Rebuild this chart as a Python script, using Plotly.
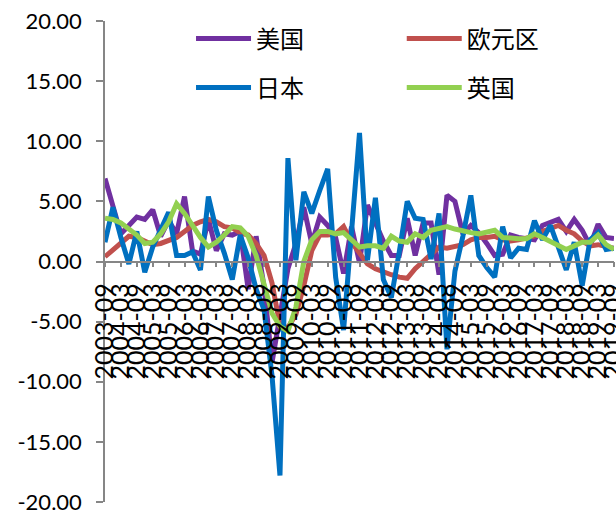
import plotly.graph_objects as go

categories = [
    "2003-09", "2003-12",
    "2004-03", "2004-06", "2004-09", "2004-12",
    "2005-03", "2005-06", "2005-09", "2005-12",
    "2006-03", "2006-06", "2006-09", "2006-12",
    "2007-03", "2007-06", "2007-09", "2007-12",
    "2008-03", "2008-06", "2008-09", "2008-12",
    "2009-03", "2009-06", "2009-09", "2009-12",
    "2010-03", "2010-06", "2010-09", "2010-12",
    "2011-03", "2011-06", "2011-09", "2011-12",
    "2012-03", "2012-06", "2012-09", "2012-12",
    "2013-03", "2013-06", "2013-09", "2013-12",
    "2014-03", "2014-06", "2014-09", "2014-12",
    "2015-03", "2015-06", "2015-09", "2015-12",
    "2016-03", "2016-06", "2016-09", "2016-12",
    "2017-03", "2017-06", "2017-09", "2017-12",
    "2018-03", "2018-06", "2018-09", "2018-12",
    "2019-03", "2019-06", "2019-09",
]

us = [6.9, 4.6, 2.3, 3.0, 3.7, 3.5, 4.3, 2.1, 3.4, 2.3,
      5.4, 0.9, 0.6, 3.5, 0.9, 2.3, 2.2, 2.5, -2.3, 2.1,
      -2.1, -8.4, -4.4, -0.6, 1.5, 4.5, 1.5, 3.7, 3.0, 2.0,
      -1.0, 2.9, -0.1, 4.7, 3.2, 1.7, 0.5, 0.5, 3.6, 0.5,
      3.2, 3.2, -1.1, 5.5, 5.0, 2.3, 3.0, 2.4, 1.5, 0.5,
      0.6, 2.2, 2.0, 1.9, 1.8, 3.0, 3.2, 3.5, 2.5, 3.5,
      2.6, 1.3, 3.1, 2.0, 1.9]

euro = [0.4, 1.0, 1.6, 2.1, 2.0, 1.7, 1.4, 1.5, 1.8, 2.0,
        2.5, 3.0, 3.3, 3.5, 3.3, 2.9, 2.8, 2.4, 2.2, 1.5,
        0.5, -1.8, -5.3, -5.5, -4.4, -2.0, 0.9, 2.2, 2.2, 2.3,
        2.9, 1.6, 0.7, -0.2, -0.6, -0.9, -1.1, -1.3, -1.4, -0.6,
        0.0, 0.5, 1.2, 1.1, 1.2, 1.4, 1.8, 2.0, 2.0, 2.1,
        1.8, 1.7, 1.8, 2.0, 2.1, 2.5, 2.8, 3.0, 2.6, 2.3,
        1.7, 1.3, 1.4, 1.2, 1.1]

japan = [1.6, 4.5, 2.0, -0.2, 2.5, -0.9, 1.2, 2.6, 4.1, 0.5,
         0.5, 0.8, -0.7, 5.4, 2.6, 0.7, -1.5, 2.2, 0.3, -2.3,
         -4.0, -9.5, -17.8, 8.6, 0.1, 5.8, 4.0, 5.9, 7.7, -1.3,
         -5.7, 2.5, 10.7, 0.1, 5.3, -1.5, -3.0, 0.8, 5.0, 3.6,
         3.5, 0.2, 4.0, -7.3, -0.8, 2.1, 5.5, 0.5, -0.5, -1.3,
         2.9, 0.3, 1.1, 1.0, 3.4, 1.8, 3.0, 1.2, -0.7, 1.6,
         -2.0, 1.8, 2.4, 1.0, 1.1]

uk = [3.6, 3.5, 3.2, 2.7, 2.2, 1.5, 1.6, 2.3, 3.3, 4.8,
      4.0, 3.0, 2.0, 1.2, 1.6, 2.2, 2.9, 2.8, 2.1, 0.5,
      -1.8, -4.3, -5.4, -5.8, -3.8, 0.0, 1.8, 2.5, 2.5, 2.3,
      2.4, 1.8, 1.2, 1.3, 1.3, 1.1, 2.1, 1.7, 1.6, 2.3,
      2.0, 2.6, 2.7, 2.9, 2.7, 2.5, 2.4, 2.3, 2.4, 2.6,
      2.0, 1.9, 1.9, 1.9, 2.3, 2.0, 1.7, 1.4, 1.0, 1.3,
      1.6, 1.6, 2.2, 1.4, 1.0]

y_tickvals = [-20, -15, -10, -5, 0, 5, 10, 15, 20]
y_ticktext = ["-20.00", "-15.00", "-10.00", "-5.00", "0.00", "5.00", "10.00", "15.00", "20.00"]

series = [
    ("美国", us, "#7030A0", "legend"),
    ("欧元区", euro, "#C0504D", "legend2"),
    ("日本", japan, "#0070C0", "legend3"),
    ("英国", uk, "#92D050", "legend4"),
]

fig = go.Figure()
for name, vals, color, leg in series:
    fig.add_trace(go.Scatter(
        x=categories, y=vals, mode="lines", name=name,
        line=dict(color=color, width=5),
        legend=leg,
    ))

ytick_font = dict(family="Lato", size=22, color="#000000")
xtick_font = dict(family="Lato", size=25, color="#000000")
leg_font = dict(family="Noto Sans CJK SC", size=24, color="#000000")


def leg(x, y):
    return dict(x=x, y=y, xanchor="left", yanchor="middle",
                font=leg_font, itemwidth=55, bgcolor="rgba(0,0,0,0)",
                borderwidth=0)


fig.update_layout(
    width=616, height=510,
    margin=dict(l=105, r=2, t=21, b=8),
    paper_bgcolor="white", plot_bgcolor="white",
    showlegend=True,
    legend=leg(0.169, 0.963),
    legend2=leg(0.583, 0.963),
    legend3=leg(0.169, 0.861),
    legend4=leg(0.583, 0.861),
    xaxis=dict(
        type="category", range=[0, len(categories) - 1],
        anchor="free", position=0.5,
        showline=True, linecolor="#868686", linewidth=1.5,
        ticks="outside", ticklen=5, tickcolor="#868686", tickwidth=1.5,
        tickmode="linear", tick0=0, dtick=2,
        tickangle=-90, tickfont=xtick_font, ticklabelstandoff=6,
        showgrid=False, zeroline=False, automargin=False,
    ),
    yaxis=dict(
        range=[-20, 20], tickmode="array",
        tickvals=y_tickvals, ticktext=y_ticktext,
        showline=True, linecolor="#868686", linewidth=1.5,
        ticks="outside", ticklen=7, tickcolor="#868686", tickwidth=1.5,
        tickfont=ytick_font, ticklabelstandoff=10, ticklabeloverflow="allow",
        showgrid=False, zeroline=False, automargin=False,
    ),
)

fig.write_html("out.html")
